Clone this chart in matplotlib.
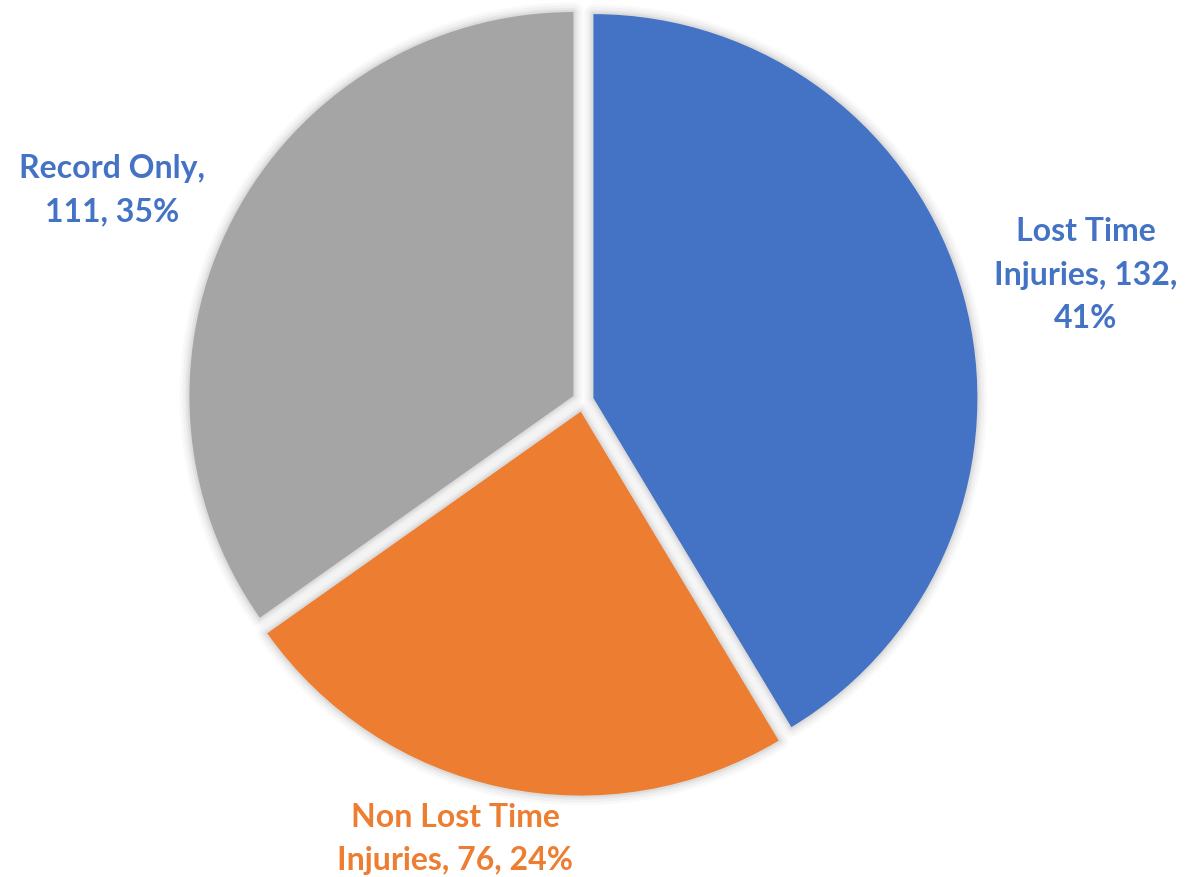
import matplotlib
matplotlib.use("Agg")
import matplotlib.pyplot as plt

labels = ["Lost Time\nInjuries, 132,\n41%", "Non Lost Time\nInjuries, 76, 24%", "Record Only,\n111, 35%"]
values = [132, 76, 111]
colors = ["#4472C4", "#ED7D31", "#A5A5A5"]
text_colors = ["#4472C4", "#ED7D31", "#4472C4"]
label_pos = [(1086, 603), (455, 39), (112, 688)]

fig = plt.figure(figsize=(11.87, 8.78), dpi=100)
ax = fig.add_axes([0, 0, 1, 1])

center = (583, 476)
radius = 384
# matplotlib's explode is in data units when center/radius are given
explode = [10.8] * 3

# soft shadow
for lw, a in [(14, 0.025), (10, 0.03), (6, 0.04), (3, 0.05)]:
    ws, _ = ax.pie(values, explode=explode, startangle=90, counterclock=False,
                   center=center, radius=radius, colors=["none"] * 3)
    for w in ws:
        w.set_edgecolor((0, 0, 0, a))
        w.set_linewidth(lw)
        w.set_joinstyle("round")

wedges, _ = ax.pie(values, explode=explode, startangle=90, counterclock=False,
                   center=center, radius=radius, colors=colors,
                   wedgeprops=dict(linewidth=0))

for lab, (x, y), c in zip(labels, label_pos, text_colors):
    ax.text(x, y, lab, ha="center", va="center", color=c, fontsize=23,
            fontweight="bold", family=["Lato", "DejaVu Sans"], linespacing=1.6,
            multialignment="center")

ax.set_xlim(0, 1187)
ax.set_ylim(0, 878)
ax.set_aspect("equal")
ax.axis("off")

fig.savefig("out.png", dpi=100)
